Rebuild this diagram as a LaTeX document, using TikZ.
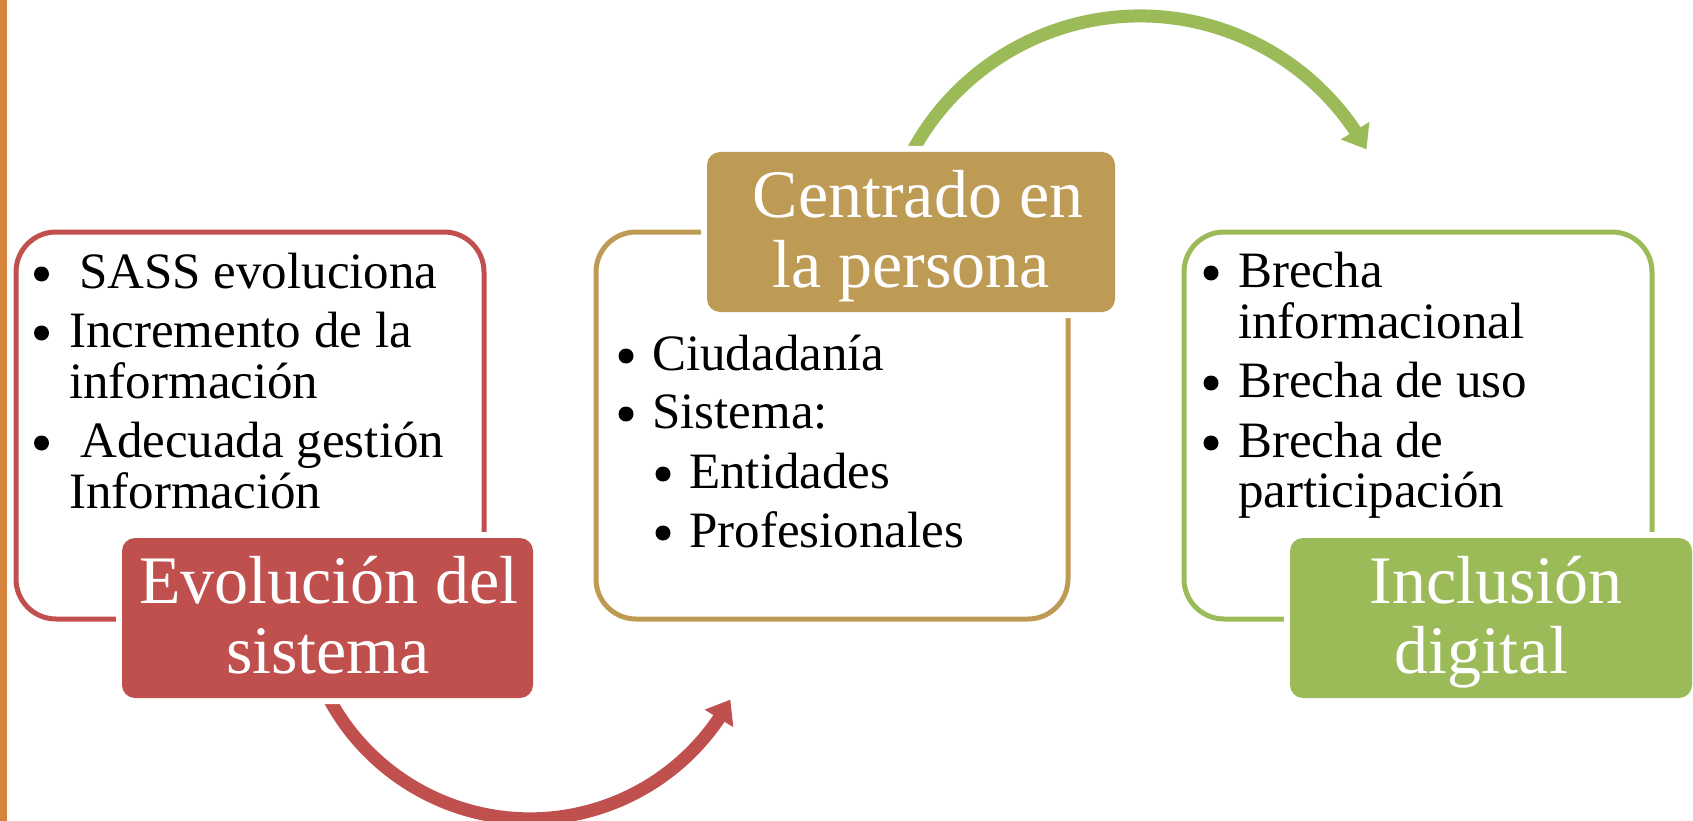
\documentclass[tikz,border=0pt]{standalone}
\usepackage{fontspec}
\setmainfont{Liberation Serif}
\usetikzlibrary{arrows.meta,bending}
\definecolor{redc}{HTML}{C0504D}
\definecolor{goldc}{HTML}{BE9B54}
\definecolor{greenc}{HTML}{9BBB59}
\definecolor{orangec}{HTML}{D6843C}
\tikzset{
  outlinebox/.style={draw, line width=5pt, rounded corners=40pt, inner sep=0pt,
    minimum width=468pt, minimum height=387pt},
  labelbox/.style={rounded corners=13pt, inner sep=0pt, minimum height=160pt,
    preaction={draw=white, line width=12pt}},
  bodytext/.style={anchor=base west, inner sep=0pt, text=black,
    font=\fontsize{51pt}{51pt}\selectfont},
  dot/.style={circle, fill=black, inner sep=0pt, minimum size=15pt},
  labtext/.style={anchor=base, inner sep=0pt, text=white,
    font=\fontsize{68pt}{68pt}\selectfont},
  flowarrow/.style={line width=13pt, -{Triangle[length=22pt,width=32pt]}}
}
\begin{document}
\begin{tikzpicture}[x=1pt,y=-1pt]
\useasboundingbox (0,0) rectangle (1693,821);
\clip (0,0) rectangle (1693,821);
\fill[orangec] (0,0) rectangle (6.5,821);

% outline boxes
\node[outlinebox, draw=redc, minimum width=468pt] (boxR) at (250,425.5) {};
\node[outlinebox, draw=goldc, minimum width=472pt] (boxG) at (832,425.5) {};
\node[outlinebox, draw=greenc, minimum width=468pt] (boxV) at (1418,425.5) {};

% arcs
\coordinate (rc) at (530,590.8);
\coordinate (gc) at (1140,275);
\draw[flowarrow, redc] ([shift={(200:228pt)}]rc) arc[start angle=200, end angle=331.5, radius=228pt];
\draw[flowarrow, greenc] ([shift={(160:259pt)}]gc) arc[start angle=160, end angle=29, radius=259pt];

% labels
\node[labelbox, fill=redc, minimum width=411pt] (labR) at (327.5,618) {};
\node[labelbox, fill=goldc, minimum width=408pt] (labG) at (911,232) {};
\node[labelbox, fill=greenc, minimum width=402pt] (labV) at (1491,618) {};

\node[labtext] (lr1) at (329,603) {Evolución del};
\node[labtext] (lr2) at (328,673) {sistema};
\node[labtext] (lg1) at (918,217) {Centrado en};
\node[labtext] (lg2) at (911,287) {la persona};
\node[labtext] (lv1) at (1496,603) {Inclusión};
\node[labtext] (lv2) at (1481,673) {digital};

% red box text
\node[dot] (r1b) at (41.5,274) {};
\node[bodytext] (r1) at (79,288) {SASS evoluciona};
\node[dot] (r2b) at (41.5,333) {};
\node[bodytext] (r2) at (69,347) {Incremento de la};
\node[bodytext] (r2c) at (69,398) {información};
\node[dot] (r3b) at (41.5,443) {};
\node[bodytext] (r3) at (80,457) {Adecuada gestión};
\node[bodytext] (r3c) at (69,508) {Información};

% gold box text
\node[dot] (g1b) at (626,356) {};
\node[bodytext] (g1) at (652,370) {Ciudadanía};
\node[dot] (g2b) at (626,414) {};
\node[bodytext] (g2) at (652,428) {Sistema:};
\node[dot] (g3b) at (663,474) {};
\node[bodytext] (g3) at (689,488) {Entidades};
\node[dot] (g4b) at (663,533) {};
\node[bodytext] (g4) at (689,547) {Profesionales};

% green box text
\node[dot] (v1b) at (1211,273) {};
\node[bodytext] (v1) at (1238,287) {Brecha};
\node[bodytext] (v1c) at (1238,338) {informacional};
\node[dot] (v2b) at (1211,383) {};
\node[bodytext] (v2) at (1238,397) {Brecha de uso};
\node[dot] (v3b) at (1211,443) {};
\node[bodytext] (v3) at (1238,457) {Brecha de};
\node[bodytext] (v3c) at (1238,507) {participación};
\end{tikzpicture}
\end{document}
